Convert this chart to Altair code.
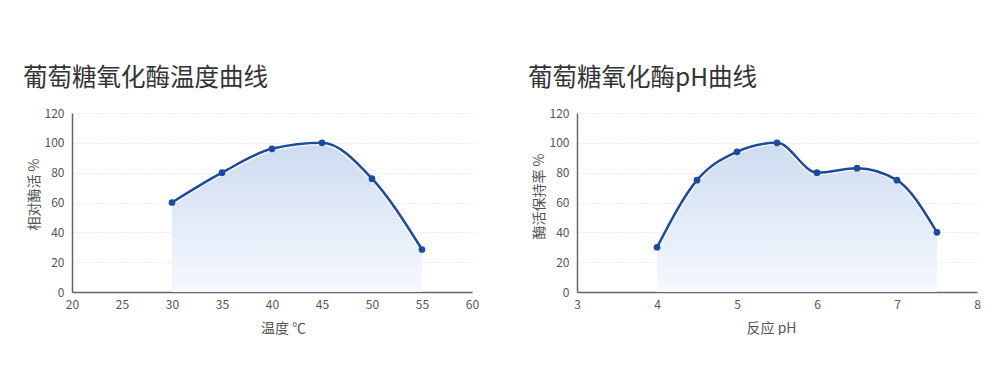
import altair as alt
import pandas as pd

temp_c = [30, 35, 40, 45, 50, 55]
temp_activity = [60, 80, 96, 100, 76, 28.5]
ph_values = [4, 4.5, 5, 5.5, 6, 6.5, 7, 7.5]
ph_retention = [30, 75, 94, 100, 80, 83, 75, 40]

temp_ticks = [20, 25, 30, 35, 40, 45, 50, 55, 60]
ph_ticks = [3, 4, 5, 6, 7, 8]
y_ticks = [0, 20, 40, 60, 80, 100, 120]

FONT = "Noto Sans CJK SC"
LINE = "#1c4a9c"
AXIS_C = "#666666"
LABEL_C = "#555555"


def panel(xs, ys, xdomain, xticks, xtitle, ytitle, title, xtitle_x, ytitle_y):
    df = pd.DataFrame({"x": xs, "y": ys})
    x = alt.X(
        "x:Q",
        scale=alt.Scale(domain=xdomain, nice=False, zero=False),
        axis=alt.Axis(
            values=xticks, title=xtitle, grid=False, ticks=False,
            labelFlush=False,
            domainColor=AXIS_C, domainWidth=1.5, labelColor=LABEL_C,
            labelFontSize=12, labelPadding=7, titleColor=LABEL_C,
            titleFontSize=14, titleFontWeight="normal", titlePadding=11,
            titleX=xtitle_x, titleAlign="center",
            labelFont=FONT, titleFont=FONT,
        ),
    )
    y = alt.Y(
        "y:Q",
        scale=alt.Scale(domain=[0, 120], nice=False),
        axis=alt.Axis(
            values=y_ticks, title=ytitle, grid=True, ticks=False,
            labelFlush=False,
            gridColor="#cfdbe8", gridDash=[1, 2], gridWidth=1,
            domainColor=AXIS_C, domainWidth=1.5, labelColor=LABEL_C,
            labelFontSize=12, labelPadding=8, titleColor=LABEL_C,
            titleFontSize=14, titleFontWeight="normal", titlePadding=3,
            titleY=ytitle_y, titleAlign="center",
            labelFont=FONT, titleFont=FONT,
        ),
    )
    base = alt.Chart(df).encode(x=x, y=y)
    area = base.mark_area(
        interpolate="monotone",
        color=alt.Gradient(
            gradient="linear",
            stops=[
                alt.GradientStop(color="#cddcf1", offset=0),
                alt.GradientStop(color="#f6f9fe", offset=1),
            ],
            x1=0, x2=0, y1=0, y2=1,
        ),
    )
    halo = base.mark_line(interpolate="monotone", color="white", strokeWidth=5)
    line = base.mark_line(interpolate="monotone", color=LINE, strokeWidth=2.5)
    pts = base.mark_circle(size=45, color=LINE, opacity=1)
    return alt.layer(area, halo, line, pts).properties(
        width=400,
        height=179,
        title=alt.TitleParams(
            text=title, anchor="start", frame="bounds", fontSize=24.5,
            fontWeight="normal", color="#333333", font=FONT, offset=16, dx=-4,
        ),
    )


left = panel(temp_c, temp_activity, [20, 60], temp_ticks, "温度  ℃", "相对酶活  %",
             "葡萄糖氧化酶温度曲线", 211, 81)
right = panel(ph_values, ph_retention, [3, 8], ph_ticks, "反应 pH", "酶活保持率 %",
              "葡萄糖氧化酶pH曲线", 194, 83)

chart = alt.hconcat(left, right, spacing=49).properties(
    padding={"left": 23, "top": 65, "right": 0, "bottom": 0},
    background="white",
).configure_view(strokeWidth=0, stroke="transparent")

chart.save("out.html", embed_options={"renderer": "svg", "actions": False})
